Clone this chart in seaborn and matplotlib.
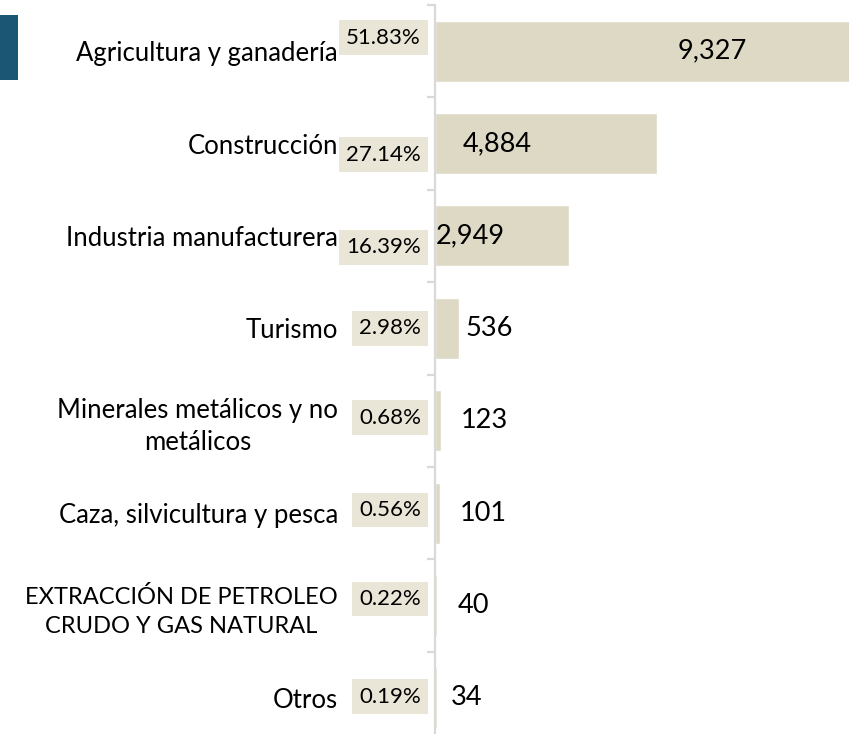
import matplotlib
matplotlib.use("Agg")
import matplotlib.pyplot as plt
import seaborn as sns
import pandas as pd
from matplotlib.patches import Rectangle
from matplotlib.ticker import FixedLocator

# ---- data ----
sectores = [
    "Agricultura y ganadería",
    "Construcción",
    "Industria manufacturera",
    "Turismo",
    "Minerales metálicos y no\nmetálicos",
    "Caza, silvicultura y pesca",
    "EXTRACCIÓN DE PETROLEO\nCRUDO Y GAS NATURAL",
    "Otros",
]
valores = [9327, 4884, 2949, 536, 123, 101, 40, 34]
porcentajes = ["51.83%", "27.14%", "16.39%", "2.98%", "0.68%", "0.56%", "0.22%", "0.19%"]

# ---- layout (label placement, pixels) ----
val_label_dx = [277, 62, 35, 54, 49, 48, 38, 32]
pct_label_dy = [-13.5, 11, 11.5, 0, -3, -3, -6.5, -1]

BAR = "#ddd9c4"
BOX = "#e9e6d7"
AXC = "#d9d9d9"

df = pd.DataFrame({"sector": sectores, "valor": valores})

sns.set_theme(style="white")
plt.rcParams["font.family"] = ["Lato", "DejaVu Sans"]

W, H, DPI = 849, 734, 100
fig = plt.figure(figsize=(W / DPI, H / DPI), dpi=DPI)
ax_left, ax_top, ax_bottom = 435, 5, 744
ax = fig.add_axes([ax_left / W, (H - ax_bottom) / H, (W - ax_left) / W, (ax_bottom - ax_top) / H])

sns.barplot(data=df, x="valor", y="sector", orient="h", color=BAR, saturation=1,
            width=0.66, ax=ax)

px_per_unit = 414 / 9108
ax.set_xlim(0, (W - ax_left) / px_per_unit)
ax.set_ylim(len(sectores) - 0.5, -0.5)

for s in ["top", "right", "bottom"]:
    ax.spines[s].set_visible(False)
ax.spines["left"].set_color(AXC)
ax.spines["left"].set_linewidth(1.6)
ax.set_xticks([])
ax.set_xlabel("")
ax.set_ylabel("")

ax.set_yticks(range(len(sectores)))
ax.set_yticklabels(sectores, fontsize=18.5, color="#000000", ha="right", multialignment="center",
                   linespacing=1.35)
for lbl in ax.get_yticklabels():
    if lbl.get_text().isupper():
        lbl.set_fontsize(17)
        lbl.set_linespacing(1.45)
ax.tick_params(axis="y", which="major", length=0, pad=70)
ax.yaxis.set_minor_locator(FixedLocator([i - 0.5 for i in range(len(sectores) + 1)]))
ax.tick_params(axis="y", which="minor", length=6, width=1.6, color=AXC, left=True)

pt = 72 / DPI
for i, (v, p) in enumerate(zip(valores, porcentajes)):
    ax.annotate(f"{v:,}", xy=(0, i), xycoords="data",
                xytext=(val_label_dx[i] * pt, 0), textcoords="offset points",
                ha="center", va="center", fontsize=19.5, color="#000000")
    ax.annotate(p, xy=(0, i), xycoords="data",
                xytext=(-14 * pt, -pct_label_dy[i] * pt), textcoords="offset points",
                ha="right", va="center", fontsize=16, color="#000000",
                bbox=dict(boxstyle="square,pad=0.33", fc=BOX, ec="none"),
                annotation_clip=False)

fig.patches.append(Rectangle((0, 1 - 80 / H), 17.5 / W, 65 / H, transform=fig.transFigure,
                             facecolor="#1b5674", edgecolor="none"))

fig.savefig("out.png", dpi=DPI)
